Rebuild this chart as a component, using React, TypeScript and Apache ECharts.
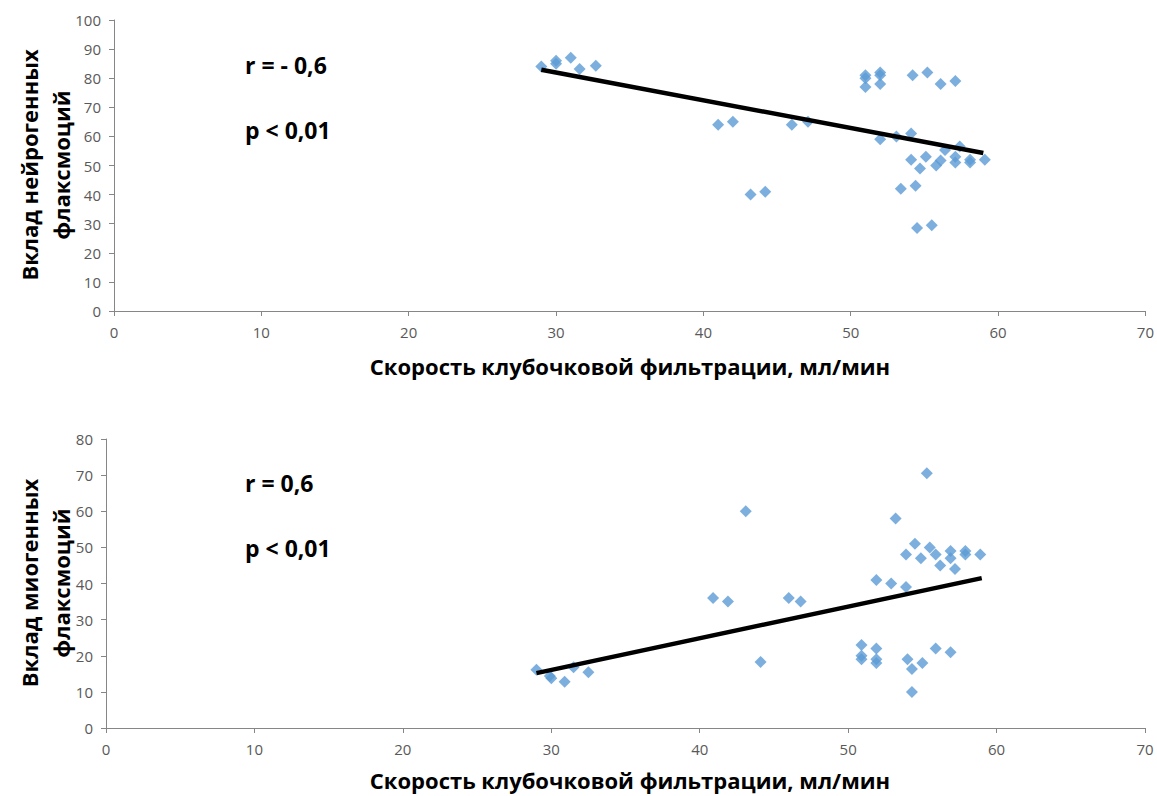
import React, { useEffect, useRef } from "react";
import * as echarts from "echarts";

const xTitle = "Скорость клубочковой фильтрации, мл/мин";
const topYTitle = ["Вклад нейрогенных", "флаксмоций"];
const bottomYTitle = ["Вклад миогенных", "флаксмоций"];
const topStats = ["r = - 0,6", "p < 0,01"];
const bottomStats = ["r = 0,6", "p < 0,01"];

const neuroX = [29, 30, 30, 31, 31.6, 32.7, 41, 42, 43.2, 44.2, 46, 47.1, 51, 51, 51, 52, 52, 52, 54.2, 55.2, 56.1, 57.1, 52, 53.1, 54.1, 56.4, 57.4, 59.1, 54.1, 55.1, 54.7, 55.8, 56.1, 57.1, 57.1, 58.1, 58.1, 53.4, 54.4, 54.5, 55.5];
const neuroY = [84, 85, 86, 87, 83.2, 84.3, 64, 65, 40, 41, 64, 65, 81, 80, 77, 82, 81, 78, 81, 82, 78, 79, 59, 60, 61, 55.3, 56.5, 52, 52, 53, 49, 50, 51.7, 53, 51, 52, 51, 42, 43, 28.5, 29.5];
const neuroTrendX = [29, 59];
const neuroTrendY = [82.9, 54.3];

const myoX = [29, 29.9, 30, 30.9, 31.5, 32.5, 40.9, 41.9, 43.1, 44.1, 46, 46.8, 55.3, 53.2, 54.5, 53.9, 54.9, 55.5, 55.9, 56.2, 56.9, 56.9, 57.2, 57.9, 57.9, 58.9, 51.9, 52.9, 53.9, 50.9, 50.9, 50.9, 51.9, 51.9, 51.9, 54, 54.3, 55, 55.9, 56.9, 54.3];
const myoY = [16.1, 14.4, 13.8, 12.8, 16.8, 15.4, 36, 35, 60, 18.3, 36, 35, 70.5, 58, 51, 48, 47, 50, 48, 45, 49, 47, 44, 49, 48, 48, 41, 40, 39, 23, 20, 19, 22, 19, 18, 19, 16.3, 18, 22, 21, 10];
const myoTrendX = [29, 59];
const myoTrendY = [15.2, 41.5];

const FONT = "'Open Sans', sans-serif";
const pointColor = "#5B9BD5";
const axisColor = "#868686";
const labelColor = "#595959";

function zip(xs: number[], ys: number[]) {
  return xs.map((x, i) => [x, ys[i]]);
}

export default function App() {
  const ref = useRef<HTMLDivElement>(null);
  useEffect(() => {
    if (!ref.current) return;
    const chart = echarts.init(ref.current, undefined, { renderer: "svg" });
    const xAxisBase = {
      type: "value",
      min: 0,
      max: 70,
      interval: 10,
      splitLine: { show: false },
      axisLine: { lineStyle: { color: axisColor } },
      axisTick: { show: true, inside: false, length: 5, lineStyle: { color: axisColor } },
      axisLabel: { color: labelColor, fontSize: 15, fontFamily: FONT, margin: 13 },
    };
    const yAxisBase = {
      type: "value",
      min: 0,
      splitLine: { show: false },
      axisLine: { show: true, lineStyle: { color: axisColor } },
      axisTick: { show: true, inside: false, length: 5, lineStyle: { color: axisColor } },
      axisLabel: { color: labelColor, fontSize: 15, fontFamily: FONT, margin: 13 },
    };
    const boldText = (text: string, x: number, y: number, size: number, align = "left") => ({
      type: "text",
      x,
      y,
      style: {
        text,
        fill: "#000",
        font: `bold ${size}px ${FONT}`,
        align,
        verticalAlign: "middle",
      },
    });
    const rotText = (text: string, x: number, y: number) => ({
      type: "text",
      x,
      y,
      rotation: Math.PI / 2,
      style: {
        text,
        fill: "#000",
        font: `bold 22px ${FONT}`,
        align: "center",
        verticalAlign: "middle",
      },
    });
    chart.setOption({
      animation: false,
      grid: [
        { left: 114, right: 10, top: 20, bottom: 485 },
        { left: 106, right: 12, top: 439, bottom: 68 },
      ],
      xAxis: [
        { ...xAxisBase, gridIndex: 0 },
        { ...xAxisBase, gridIndex: 1 },
      ],
      yAxis: [
        { ...yAxisBase, gridIndex: 0, max: 100, interval: 10 },
        { ...yAxisBase, gridIndex: 1, max: 80, interval: 10 },
      ],
      series: [
        {
          type: "scatter",
          xAxisIndex: 0,
          yAxisIndex: 0,
          symbol: "diamond",
          symbolSize: 12,
          itemStyle: { color: pointColor },
          data: zip(neuroX, neuroY),
        },
        {
          type: "line",
          xAxisIndex: 0,
          yAxisIndex: 0,
          symbol: "none",
          lineStyle: { color: "#000", width: 4.5 },
          data: zip(neuroTrendX, neuroTrendY),
        },
        {
          type: "scatter",
          xAxisIndex: 1,
          yAxisIndex: 1,
          symbol: "diamond",
          symbolSize: 12,
          itemStyle: { color: pointColor },
          data: zip(myoX, myoY),
        },
        {
          type: "line",
          xAxisIndex: 1,
          yAxisIndex: 1,
          symbol: "none",
          lineStyle: { color: "#000", width: 4.5 },
          data: zip(myoTrendX, myoTrendY),
        },
      ],
      graphic: [
        boldText(topStats[0], 245, 65, 23),
        boldText(topStats[1], 245, 130, 23),
        boldText(bottomStats[0], 245, 483, 23),
        boldText(bottomStats[1], 245, 548, 23),
        boldText(xTitle, 630, 366, 22, "center"),
        boldText(xTitle, 630, 780, 22, "center"),
        rotText(topYTitle[0], 29, 165),
        rotText(topYTitle[1], 61, 165),
        rotText(bottomYTitle[0], 29, 583),
        rotText(bottomYTitle[1], 61, 583),
      ],
    });
    return () => chart.dispose();
  }, []);
  return (
    <div
      ref={ref}
      style={{ position: "fixed", left: 0, top: 0, width: 1157, height: 796, background: "#fff" }}
    />
  );
}
